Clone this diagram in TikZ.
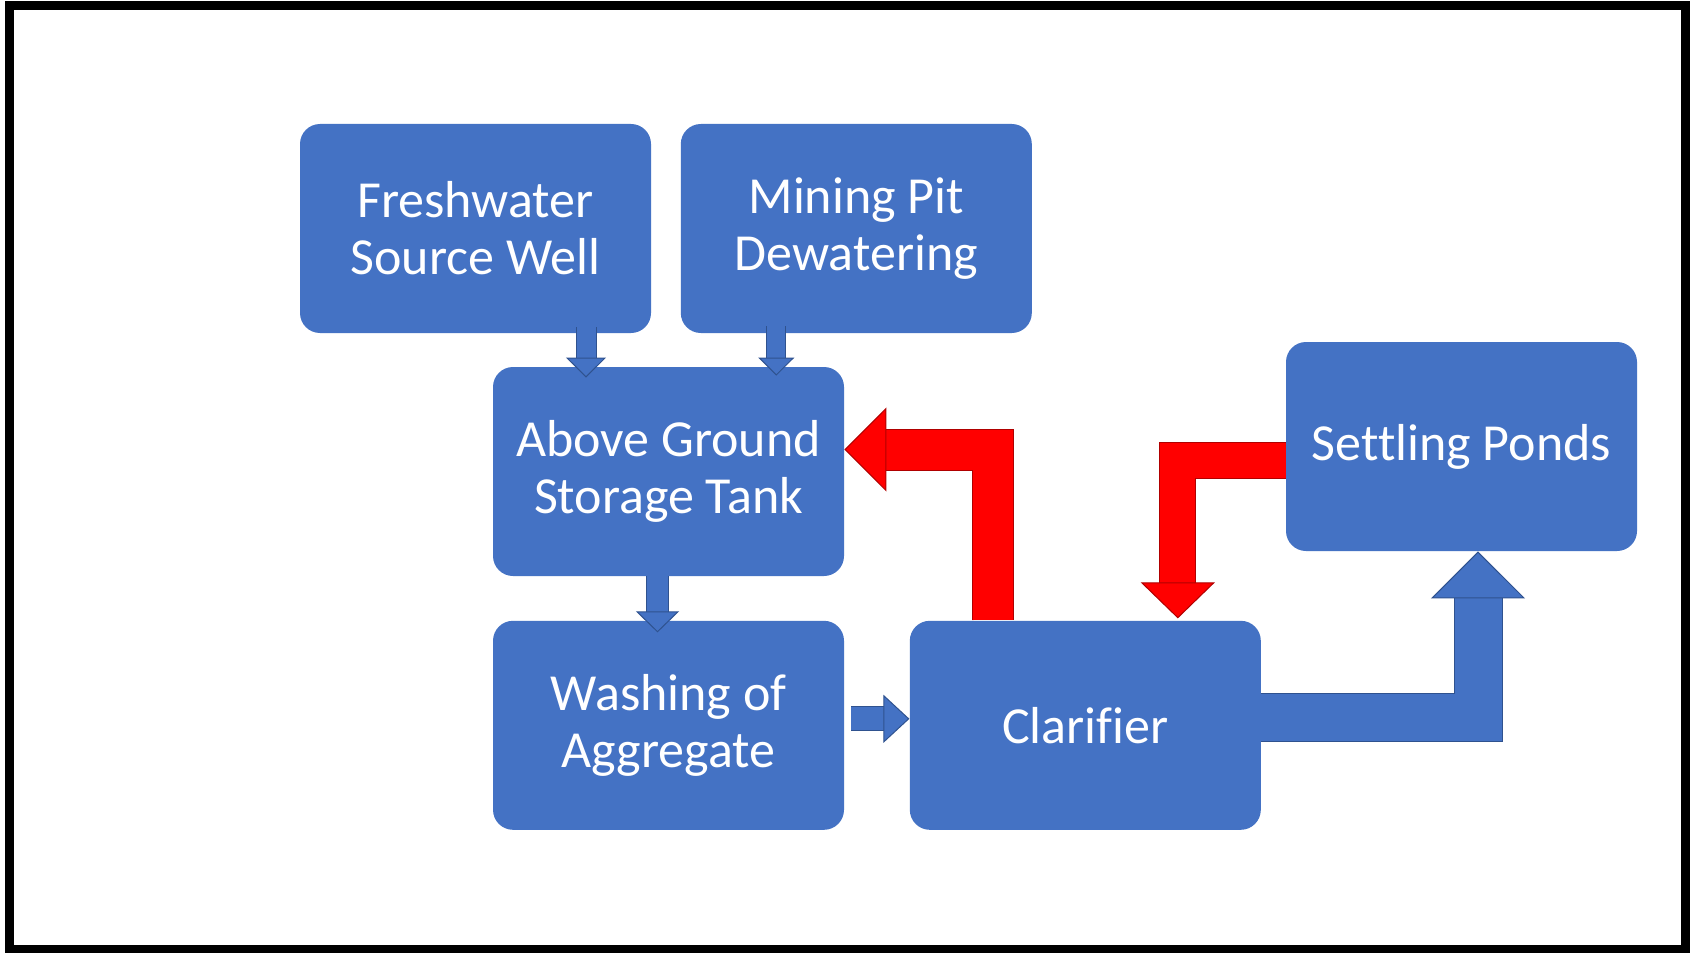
\documentclass[tikz,border=0pt]{standalone}
\usepackage{fontspec}
\setmainfont{Carlito}[Ligatures=CommonOff]
\usetikzlibrary{arrows.meta, positioning}

\definecolor{boxblue}{HTML}{4472C4}
\definecolor{edgeblue}{HTML}{2F528F}
\definecolor{flowred}{HTML}{FF0000}
\definecolor{edgered}{HTML}{B00000}

\begin{document}
\begin{tikzpicture}[
    x=0.5pt, y=-0.5pt,
    node distance=14.5pt and 14.5pt,
    every node/.style={font=\fontsize{26}{28.5}\selectfont, text=white},
    stage/.style={fill=boxblue, rounded corners=10pt, minimum width=175.5pt, minimum height=104.5pt, align=center, inner sep=0pt},
    flow/.style={line width=0.5pt, draw=edgeblue, double=boxblue, line join=miter},
    backflow/.style={line width=0.5pt, draw=edgered, double=flowred, line join=miter}
]

\useasboundingbox (0,0) rectangle (1690,952);
\fill[white] (0,0) rectangle (1690,952);
\draw[line width=4.5pt] (9.5,5.5) rectangle (1685.5,949.5);

% water sources
\node[stage] (fw) at (475.5,228.5) {Freshwater\\Source Well};
\node[stage, right=of fw] (mp) {Mining Pit\\Dewatering};

% process line
\node[stage] (ag) at (668.5,471.5) {Above Ground\\Storage Tank};
\node[stage, below=22pt of ag] (wa) {Washing of\\Aggregate};
\node[stage, right=32.5pt of wa] (cl) {Clarifier};
\node[stage] (sp) at (1461.5,446.5) {Settling Ponds};

% feed arrows
\draw[flow, double distance=9.5pt, shorten >=-5.5pt, -{Triangle[width=20pt, length=10pt, fill=boxblue]}]
    ([xshift=55.25pt, yshift=3pt]fw.south) coordinate (a1) -- (a1 |- ag.north);
\draw[flow, double distance=9pt, shorten >=-4.5pt, -{Triangle[width=18pt, length=9pt, fill=boxblue]}]
    ([xshift=-40pt, yshift=3.5pt]mp.south) coordinate (a2) -- (a2 |- ag.north);
\draw[flow, double distance=10.5pt, shorten >=-6pt, -{Triangle[width=21.5pt, length=10.5pt, fill=boxblue]}]
    ([xshift=-5.5pt]ag.south) coordinate (a3) -- (a3 |- wa.north);
\draw[flow, double distance=11.5pt, -{Triangle[width=24pt, length=13pt, fill=boxblue]}]
    ([xshift=3.5pt, yshift=3.25pt]wa.east) coordinate (a4) -- (a4 -| cl.west);

% recycle loops
\coordinate (r1) at ([yshift=11pt]ag.east);
\coordinate (r2) at ([xshift=46.25pt]cl.north);
\coordinate (b1) at ([xshift=8.25pt]sp.south);
\draw[backflow, double distance=20pt, -{Triangle[width=42pt, length=21pt, fill=flowred]}]
    ([xshift=-46.25pt]cl.north) |- (r1);
\draw[backflow, double distance=17.5pt, shorten >=1pt, -{Triangle[width=37pt, length=18pt, fill=flowred]}]
    ([yshift=-7pt]sp.west) -| (r2);
\draw[flow, double distance=23.5pt, -{Triangle[width=47pt, length=23.5pt, fill=boxblue]}]
    ([yshift=3.75pt]cl.east) -| (b1);

\end{tikzpicture}
\end{document}
